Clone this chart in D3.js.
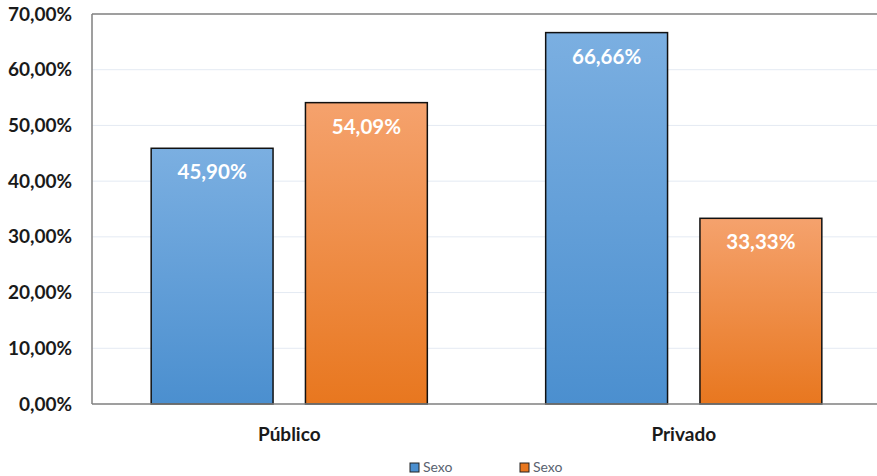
<!DOCTYPE html>
<html>
<head>
<meta charset="utf-8">
<script src="https://cdn.jsdelivr.net/npm/d3@7"></script>
<style>
  html, body { margin: 0; padding: 0; background: #fff; }
  svg { display: block; }
</style>
</head>
<body>
<svg id="chart" width="877" height="476"></svg>
<script>
const categories = ["Público", "Privado"];
const seriesNames = ["Sexo", "Sexo"];
const seriesKeys = ["s1", "s2"];
const values1 = [45.90, 66.66];
const values2 = [54.09, 33.33];
const valueLabels1 = ["45,90%", "66,66%"];
const valueLabels2 = ["54,09%", "33,33%"];
const yTicks = [0, 10, 20, 30, 40, 50, 60, 70];

const data = categories.map((c, i) => ({
  cat: c,
  vals: [
    { key: "s1", v: values1[i], label: valueLabels1[i] },
    { key: "s2", v: values2[i], label: valueLabels2[i] }
  ]
}));

const svg = d3.select("#chart");
const margin = { left: 92 };

const x = d3.scaleBand().domain(categories).range([margin.left, 881]).paddingInner(0.3).paddingOuter(0.15);
const x1 = d3.scaleBand().domain(seriesKeys).range([0, x.bandwidth()]).paddingInner(0.21);
const y = d3.scaleLinear().domain([0, 70]).range([404, 14]);

const defs = svg.append("defs");
const grads = {
  s1: ["#7bafe1", "#4b8fcf"],
  s2: ["#f5a26d", "#e8771f"]
};
Object.entries(grads).forEach(([k, c]) => {
  const g = defs.append("linearGradient").attr("id", "g_" + k)
    .attr("x1", 0).attr("y1", 0).attr("x2", 0).attr("y2", 1);
  g.append("stop").attr("offset", "0%").attr("stop-color", c[0]);
  g.append("stop").attr("offset", "100%").attr("stop-color", c[1]);
});

// gridlines
svg.append("g").selectAll("line").data(yTicks.filter(t => t > 0 && t < 70)).join("line")
  .attr("x1", margin.left).attr("x2", 877)
  .attr("y1", d => y(d)).attr("y2", d => y(d))
  .attr("stroke", "#e4eaf3").attr("stroke-width", 1);

// y axis labels
const yAxis = d3.axisLeft(y).tickValues(yTicks).tickSize(0).tickPadding(20)
  .tickFormat(d => d3.format(".2f")(d).replace(".", ",") + "%");
const ya = svg.append("g").attr("transform", `translate(${margin.left},0)`).call(yAxis);
ya.select(".domain").remove();
ya.selectAll("text").attr("font-family", "Lato, 'Open Sans', sans-serif")
  .attr("font-weight", "bold").attr("font-size", 19).attr("fill", "#1a1a1a");

// bars
const groups = svg.append("g").selectAll("g").data(data).join("g")
  .attr("transform", d => `translate(${x(d.cat)},0)`);
groups.selectAll("rect").data(d => d.vals).join("rect")
  .attr("x", d => x1(d.key)).attr("width", x1.bandwidth())
  .attr("y", d => y(d.v)).attr("height", d => y(0) - y(d.v))
  .attr("fill", d => `url(#g_${d.key})`)
  .attr("stroke", "#111").attr("stroke-width", 1.5);
groups.selectAll("text").data(d => d.vals).join("text")
  .attr("x", d => x1(d.key) + x1.bandwidth() / 2)
  .attr("y", d => y(d.v) + 31)
  .attr("text-anchor", "middle")
  .attr("font-family", "Lato, 'Open Sans', sans-serif")
  .attr("font-weight", "bold").attr("font-size", 20.5).attr("fill", "#fff")
  .text(d => d.label);

// frame: top, left, bottom
svg.append("line").attr("x1", margin.left).attr("x2", 877).attr("y1", 14).attr("y2", 14)
  .attr("stroke", "#7f7f7f").attr("stroke-width", 1.5);
svg.append("line").attr("x1", margin.left).attr("x2", margin.left).attr("y1", 14).attr("y2", 404)
  .attr("stroke", "#7f7f7f").attr("stroke-width", 1.5);
svg.append("line").attr("x1", margin.left).attr("x2", 877).attr("y1", 404).attr("y2", 404)
  .attr("stroke", "#7f7f7f").attr("stroke-width", 1.5);

// x axis labels
const xAxis = d3.axisBottom(x).tickSize(0).tickPadding(0);
const xa = svg.append("g").attr("transform", `translate(0,${404})`).call(xAxis);
xa.select(".domain").remove();
xa.selectAll("text").attr("dy", null).attr("y", 37)
  .attr("font-family", "Lato, 'Open Sans', sans-serif")
  .attr("font-weight", "bold").attr("font-size", 19).attr("fill", "#1a1a1a");

// legend
const legendX = [410, 520];
const lg = svg.append("g").selectAll("g").data(seriesKeys).join("g")
  .attr("transform", (d, i) => `translate(${legendX[i]},463)`);
lg.append("rect").attr("width", 9).attr("height", 9)
  .attr("fill", d => grads[d][1]).attr("stroke", "#222").attr("stroke-width", 1);
lg.append("text").attr("x", 13).attr("y", 9)
  .attr("font-family", "Lato, 'Open Sans', sans-serif").attr("font-size", 14)
  .attr("fill", "#5a6270").text((d, i) => seriesNames[i]);
</script>
</body>
</html>
